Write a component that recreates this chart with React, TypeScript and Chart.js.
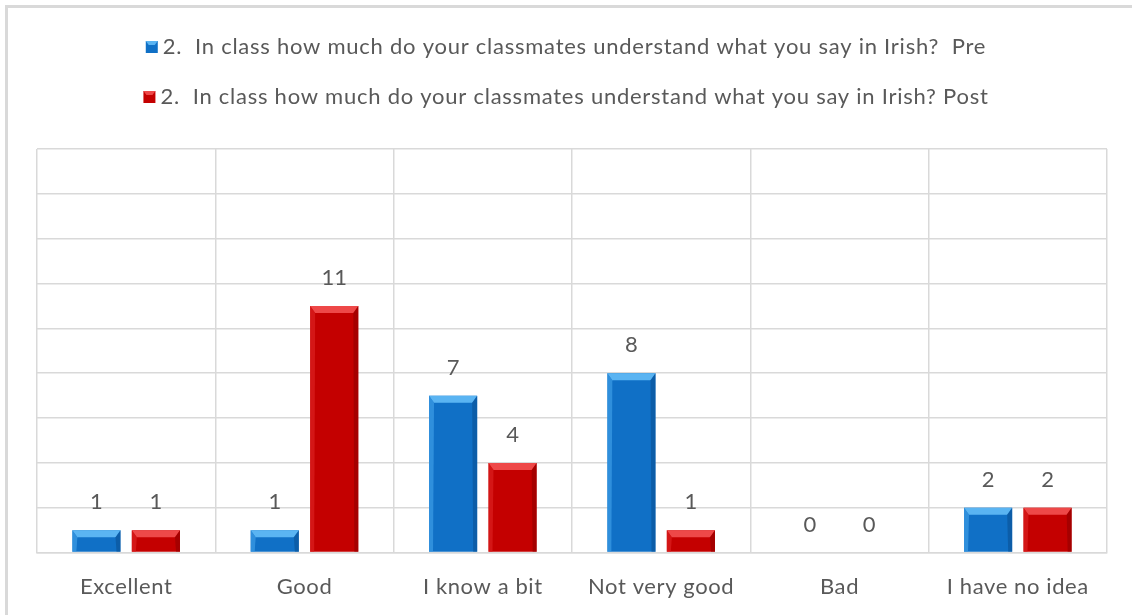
import React, { useEffect, useRef } from "react";
import { Chart, registerables } from "chart.js";

Chart.register(...registerables);

const categories = ["Excellent", "Good", "I know a bit", "Not very good", "Bad", "I have no idea"];
const preValues = [1, 1, 7, 8, 0, 2];
const postValues = [1, 11, 4, 1, 0, 2];
const seriesLabels = [
  "2.  In class how much do your classmates understand what you say in Irish?  Pre",
  "2.  In class how much do your classmates understand what you say in Irish? Post",
];
const yMax = 18;
const yStep = 2;

const FONT = "Lato, 'Open Sans', sans-serif";
const TEXT = "#595959";

const palette = [
  { main: "#1070c6", light: "#3d9ce6", top: "#5ab4f2", dark: "#0a4f8f" },
  { main: "#c40000", light: "#dc2020", top: "#ee4848", dark: "#8c0000" },
];

const decorPlugin = {
  id: "decor",
  beforeDraw(chart: any) {
    const { ctx, width, height } = chart;
    ctx.save();
    ctx.fillStyle = "#ffffff";
    ctx.fillRect(0, 0, width, height);
    ctx.strokeStyle = "#d9d9d9";
    ctx.lineWidth = 3;
    ctx.strokeRect(6.5, 6.5, width + 20, height + 20);
    ctx.restore();
    ctx.letterSpacing = "0.6px";
  },
  afterDatasetsDraw(chart: any) {
    const { ctx } = chart;
    ctx.save();
    chart.data.datasets.forEach((ds: any, di: number) => {
      const meta = chart.getDatasetMeta(di);
      const p = palette[di];
      meta.data.forEach((bar: any, i: number) => {
        const v = ds.data[i];
        const left = bar.x - bar.width / 2;
        const right = bar.x + bar.width / 2;
        const top = bar.y;
        const base = bar.base;
        const h = base - top;
        if (h > 0.5) {
          const bev = Math.min(7, h / 2);
          ctx.fillStyle = p.top;
          ctx.beginPath();
          ctx.moveTo(left, top);
          ctx.lineTo(right, top);
          ctx.lineTo(right - 5, top + bev);
          ctx.lineTo(left + 5, top + bev);
          ctx.closePath();
          ctx.fill();
          ctx.fillStyle = p.dark;
          ctx.globalAlpha = 0.55;
          ctx.beginPath();
          ctx.moveTo(right, top);
          ctx.lineTo(right, base);
          ctx.lineTo(right - 4, base);
          ctx.lineTo(right - 5, top + bev);
          ctx.closePath();
          ctx.fill();
          ctx.fillStyle = p.light;
          ctx.globalAlpha = 0.7;
          ctx.beginPath();
          ctx.moveTo(left, top);
          ctx.lineTo(left + 5, top + bev);
          ctx.lineTo(left + 4, base);
          ctx.lineTo(left, base);
          ctx.closePath();
          ctx.fill();
          ctx.globalAlpha = 1;
        }
        ctx.fillStyle = TEXT;
        ctx.font = `22px ${FONT}`;
        ctx.letterSpacing = "0px";
        ctx.textAlign = "center";
        ctx.textBaseline = "middle";
        ctx.fillText(String(v), bar.x, top - 28);
      });
    });
    ctx.restore();
  },
  afterDraw(chart: any) {
    const { ctx, width } = chart;
    ctx.save();
    ctx.font = `22px ${FONT}`;
    ctx.letterSpacing = "0.75px";
    ctx.textBaseline = "middle";
    ctx.textAlign = "left";
    const ys = [47, 97];
    seriesLabels.forEach((label, i) => {
      const tw = ctx.measureText(label).width;
      const box = 12;
      const gap = 5;
      const total = box + gap + tw;
      const x0 = (width - total) / 2;
      const y = ys[i];
      const p = palette[i];
      ctx.fillStyle = p.main;
      ctx.fillRect(x0, y - box / 2, box, box);
      ctx.fillStyle = p.top;
      ctx.beginPath();
      ctx.moveTo(x0, y - box / 2);
      ctx.lineTo(x0 + box, y - box / 2);
      ctx.lineTo(x0 + box - 3, y - box / 2 + 4);
      ctx.lineTo(x0 + 3, y - box / 2 + 4);
      ctx.closePath();
      ctx.fill();
      ctx.fillStyle = TEXT;
      ctx.fillText(label, x0 + box + gap, y);
    });
    ctx.restore();
  },
};

export default function App() {
  const ref = useRef<HTMLCanvasElement>(null);
  useEffect(() => {
    const canvas = ref.current!;
    const chart = new Chart(canvas, {
      type: "bar",
      data: {
        labels: categories,
        datasets: [
          {
            label: seriesLabels[0],
            data: preValues,
            backgroundColor: palette[0].main,
            borderWidth: 0,
            categoryPercentage: 0.667,
            barPercentage: 0.81,
          },
          {
            label: seriesLabels[1],
            data: postValues,
            backgroundColor: palette[1].main,
            borderWidth: 0,
            categoryPercentage: 0.667,
            barPercentage: 0.81,
          },
        ],
      },
      options: {
        animation: false,
        responsive: false,
        maintainAspectRatio: false,
        layout: { padding: { left: 37, right: 25, top: 149, bottom: 18 } },
        plugins: { legend: { display: false }, tooltip: { enabled: false } },
        scales: {
          x: {
            grid: { color: "#d9d9d9", lineWidth: 1.5, drawTicks: false },
            border: { color: "#d9d9d9", width: 1.5 },
            ticks: { color: TEXT, font: { family: FONT, size: 22 }, padding: 21, maxRotation: 0 },
          },
          y: {
            min: 0,
            max: yMax,
            ticks: { stepSize: yStep, display: false },
            grid: { color: "#d9d9d9", lineWidth: 1.5, drawTicks: false },
            border: { display: false },
          },
        },
      },
      plugins: [decorPlugin],
    });
    return () => chart.destroy();
  }, []);
  return (
    <div style={{ position: "absolute", left: 0, top: 0, width: 1132, height: 615, overflow: "hidden" }}>
      <canvas ref={ref} width={1132} height={639} style={{ display: "block" }} />
    </div>
  );
}
